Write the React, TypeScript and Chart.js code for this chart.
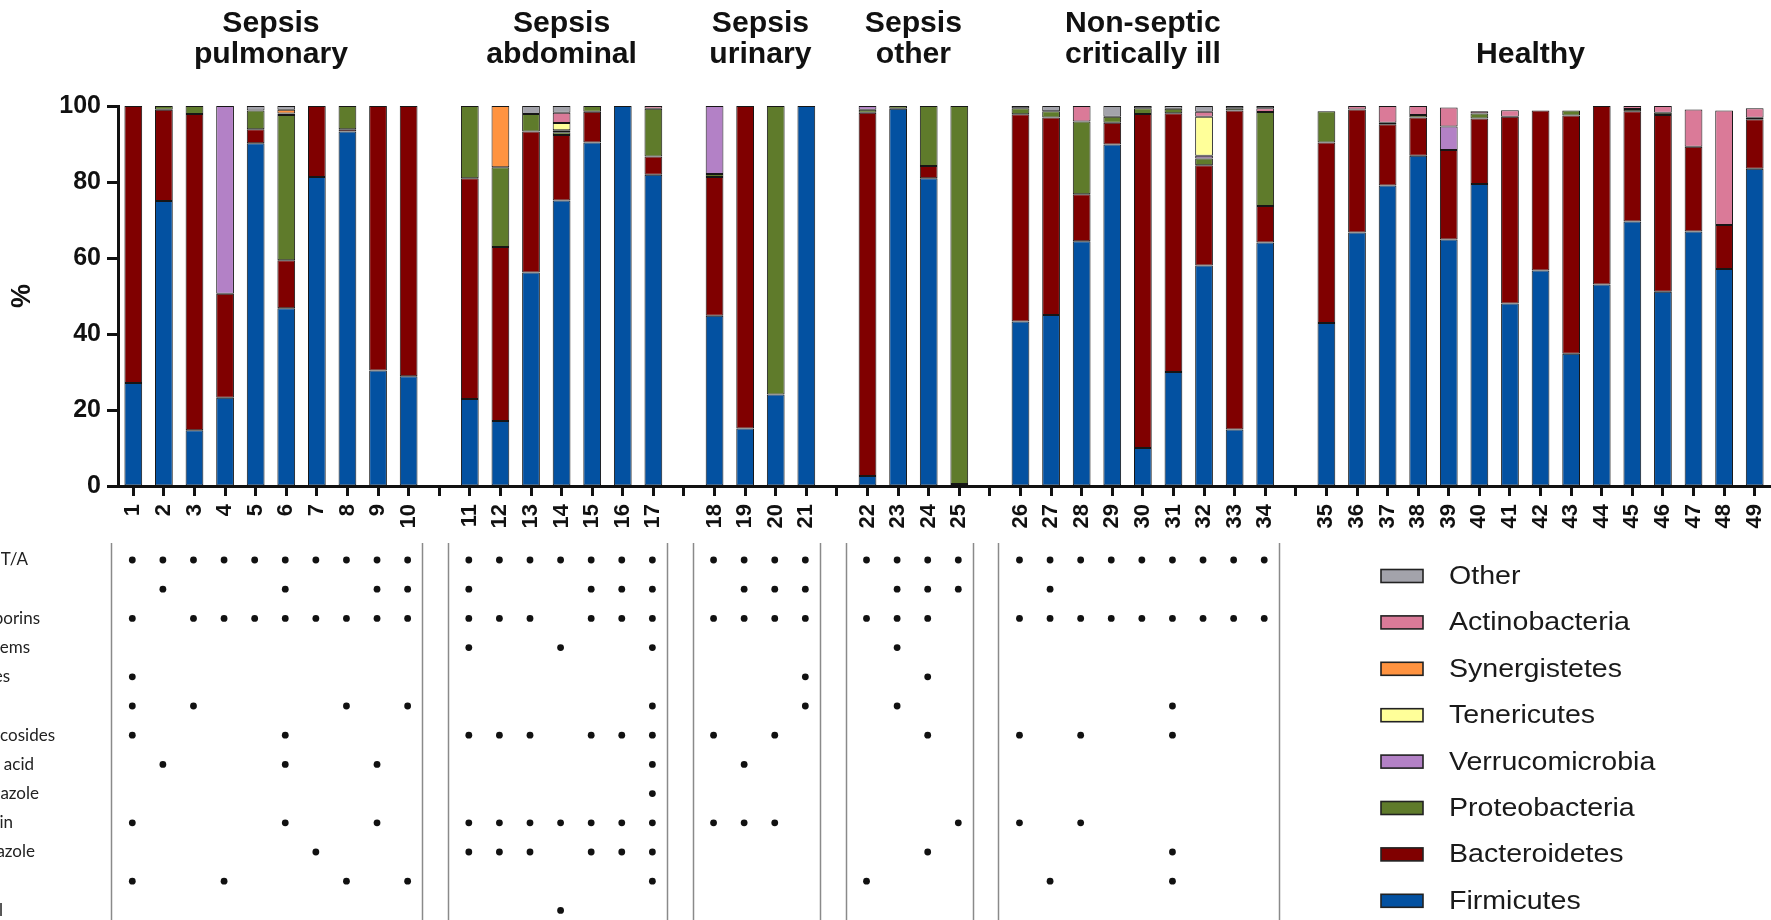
import { useEffect, useRef } from "react";
import { Chart, registerables } from "chart.js";

Chart.register(...registerables);

// Patient groups, in the order they appear along the x axis
const GROUP_TITLES: string[][] = [
  ["Sepsis", "pulmonary"],
  ["Sepsis", "abdominal"],
  ["Sepsis", "urinary"],
  ["Sepsis", "other"],
  ["Non-septic", "critically ill"],
  ["Healthy"],
];
const GROUP_SIZES = [10, 7, 4, 4, 9, 15];
// horizontal nudge of each heading from the group centre, px
const TITLE_SHIFT = [0, 0, 0, 0, 0, -10];

const SAMPLE_LABELS = [
  "1", "2", "3", "4", "5", "6", "7", "8", "9", "10",
  "11", "12", "13", "14", "15", "16", "17",
  "18", "19", "20", "21",
  "22", "23", "24", "25",
  "26", "27", "28", "29", "30", "31", "32", "33", "34",
  "35", "36", "37", "38", "39", "40", "41", "42", "43", "44", "45", "46", "47", "48", "49",
];

// Relative abundance (%) per phylum, one value per sample
const FIRMICUTES = [
  27.1, 75.0, 14.7, 23.2, 90.2, 46.8, 81.3, 93.3, 30.4, 28.9,
  22.9, 17.1, 56.2, 75.1, 90.4, 100, 81.9,
  44.8, 15.1, 24.1, 100,
  2.6, 99.3, 81.0, 0.5,
  43.3, 45.0, 64.4, 89.9, 10.0, 30.0, 58.0, 14.9, 64.1,
  42.9, 66.7, 79.1, 86.9, 64.9, 79.5, 48.0, 56.7, 34.8, 53.0, 69.6, 51.1, 67.0, 57.1, 83.5,
];
const BACTEROIDETES = [
  72.9, 24.0, 83.2, 27.4, 3.7, 12.6, 18.7, 0.6, 69.6, 71.1,
  58.1, 45.8, 37.1, 17.3, 8.1, 0, 4.8,
  36.5, 84.9, 0, 0,
  95.6, 0, 3.2, 0,
  54.5, 52.0, 12.4, 5.7, 87.9, 68.1, 26.4, 83.9, 9.6,
  47.5, 32.4, 16.1, 10.1, 23.5, 17.2, 49.2, 42.1, 62.7, 47.0, 29.0, 46.5, 22.3, 11.6, 13.0,
];
const PROTEOBACTERIA = [
  0, 1.0, 2.1, 0, 4.9, 38.2, 0, 6.1, 0, 0,
  19.0, 21.0, 4.6, 0.7, 1.5, 0, 12.6,
  0.8, 0, 75.9, 0,
  0.8, 0.7, 15.8, 99.5,
  1.6, 1.6, 19.1, 1.6, 1.5, 1.2, 1.8, 0.6, 24.7,
  8.2, 0, 0.4, 0.6, 0, 1.3, 0, 0, 1.3, 0, 0.6, 0.6, 0, 0, 0.4,
];
const VERRUCOMICROBIA = [
  0, 0, 0, 49.4, 0, 0, 0, 0, 0, 0,
  0, 0, 0, 0.5, 0, 0, 0,
  17.9, 0, 0, 0,
  1.0, 0, 0, 0,
  0, 0, 0, 0, 0, 0, 0.7, 0, 0,
  0, 0, 0, 0, 6.2, 0, 0, 0, 0, 0, 0, 0, 0, 0, 0,
];
const TENERICUTES = [
  0, 0, 0, 0, 0, 0.4, 0, 0, 0, 0,
  0, 0, 0, 1.9, 0, 0, 0,
  0, 0, 0, 0,
  0, 0, 0, 0,
  0, 0, 0, 0, 0, 0, 10.3, 0, 0,
  0, 0, 0, 0, 0, 0, 0, 0, 0, 0, 0, 0, 0, 0, 0,
];
const SYNERGISTETES = [
  0, 0, 0, 0, 0, 1.0, 0, 0, 0, 0,
  0, 16.1, 0, 0, 0, 0, 0,
  0, 0, 0, 0,
  0, 0, 0, 0,
  0, 0, 0, 0, 0, 0, 0, 0, 0,
  0, 0, 0, 0, 0, 0, 0, 0, 0, 0, 0, 0, 0, 0, 0,
];
const ACTINOBACTERIA = [
  0, 0, 0, 0, 0, 0, 0, 0, 0, 0,
  0, 0, 0, 2.7, 0, 0, 0.7,
  0, 0, 0, 0,
  0, 0, 0, 0,
  0, 0, 4.1, 0, 0, 0, 1.3, 0, 1.0,
  0, 0.9, 4.4, 2.4, 5.0, 0.6, 1.7, 0, 0, 0, 0.8, 1.8, 9.8, 30.1, 2.5,
];
const OTHER = [
  0, 0, 0, 0, 1.2, 1.0, 0, 0, 0, 0,
  0, 0, 2.1, 1.8, 0, 0, 0,
  0, 0, 0, 0,
  0, 0, 0, 0,
  0.6, 1.4, 0, 2.8, 0.6, 0.7, 1.5, 0.6, 0.6,
  0, 0, 0, 0, 0, 0, 0, 0, 0, 0, 0, 0, 0, 0, 0,
];

const PHYLA = [
  { label: "Firmicutes", values: FIRMICUTES, color: "#0351A1" },
  { label: "Bacteroidetes", values: BACTEROIDETES, color: "#800000" },
  { label: "Proteobacteria", values: PROTEOBACTERIA, color: "#5F7B2B" },
  { label: "Verrucomicrobia", values: VERRUCOMICROBIA, color: "#B381C6" },
  { label: "Tenericutes", values: TENERICUTES, color: "#FFFF99" },
  { label: "Synergistetes", values: SYNERGISTETES, color: "#FF9340" },
  { label: "Actinobacteria", values: ACTINOBACTERIA, color: "#DA7A98" },
  { label: "Other", values: OTHER, color: "#A3A3AB" },
];

// Antibiotic exposure table below the bars: row names and the samples marked in each row
const TREATMENT_ROWS = [
  "Piperacillin/T/A",
  "Vancomycin",
  "Cephalosporins",
  "Carbapenems",
  "Quinolones",
  "Linezolid",
  "Aminoglycosides",
  "Clavulanic acid",
  "Metronidazole",
  "Clindamycin",
  "Fluconazole",
  "Antivirals",
  "Chloramphenicol",
];
const TREATMENT_SAMPLES: number[][] = [
  [1, 2, 3, 4, 5, 6, 7, 8, 9, 10, 11, 12, 13, 14, 15, 16, 17, 18, 19, 20, 21, 22, 23, 24, 25, 26, 27, 28, 29, 30, 31, 32, 33, 34],
  [2, 6, 9, 10, 11, 15, 16, 17, 19, 20, 21, 23, 24, 25, 27],
  [1, 3, 4, 5, 6, 7, 8, 9, 10, 11, 12, 13, 15, 16, 17, 18, 19, 20, 21, 22, 23, 24, 26, 27, 28, 29, 30, 31, 32, 33, 34],
  [11, 14, 17, 23],
  [1, 21, 24],
  [1, 3, 8, 10, 17, 21, 23, 31],
  [1, 6, 11, 12, 13, 15, 16, 17, 18, 20, 24, 26, 28, 31],
  [2, 6, 9, 17, 19],
  [17],
  [1, 6, 9, 11, 12, 13, 14, 15, 16, 17, 18, 19, 20, 25, 26, 28],
  [7, 11, 12, 13, 15, 16, 17, 24, 31],
  [1, 4, 8, 10, 17, 22, 27, 31],
  [14],
];
const TABLE_GROUPS = 5;

// Row names are right-aligned against the left page edge, where they run off the canvas
const ROW_NAME_RIGHT = [28, -6, 40, 30, 10, -6, 55, 34, 39, 13, 35, -6, 3];

const FONT = "'Liberation Sans', Arial, Helvetica, sans-serif";
const INK = "#111";

// slot index on the category axis for each sample (one empty slot between groups)
const SLOT_OF: number[] = [];
const X_LABELS: string[] = [];
{
  let s = 0;
  GROUP_SIZES.forEach((n, g) => {
    for (let k = 0; k < n; k++) {
      SLOT_OF.push(X_LABELS.length);
      X_LABELS.push(SAMPLE_LABELS[s + k]);
    }
    s += n;
    if (g < GROUP_SIZES.length - 1) X_LABELS.push("");
  });
}

function toSlots(values: number[]): (number | null)[] {
  const out: (number | null)[] = X_LABELS.map(() => null);
  values.forEach((v, i) => {
    out[SLOT_OF[i]] = v > 0 ? v : null;
  });
  return out;
}

// text drawn slightly widened, as in the figure's typesetting
function wideText(ctx: CanvasRenderingContext2D, text: string, x: number, y: number, stretch: number) {
  ctx.save();
  ctx.translate(x, y);
  ctx.scale(stretch, 1);
  ctx.fillText(text, 0, 0);
  ctx.restore();
}

const annotations = {
  id: "panelAnnotations",
  afterDraw(chart: any) {
    const ctx: CanvasRenderingContext2D = chart.ctx;
    const xs = chart.scales.x;
    const px = (slot: number) => xs.getPixelForValue(slot);
    ctx.save();

    // group headings
    ctx.fillStyle = INK;
    ctx.font = `bold 29px ${FONT}`;
    ctx.textAlign = "center";
    ctx.textBaseline = "alphabetic";
    let start = 0;
    const bounds: [number, number][] = [];
    GROUP_SIZES.forEach((n, g) => {
      const first = SLOT_OF[start];
      const last = SLOT_OF[start + n - 1];
      bounds.push([first, last]);
      const cx = (px(first) + px(last)) / 2 + TITLE_SHIFT[g];
      const lines = GROUP_TITLES[g];
      const baselines = lines.length === 2 ? [32, 63] : [63];
      lines.forEach((t, i) => wideText(ctx, t, cx, baselines[i], 1.04));
      start += n;
    });

    // y axis title
    ctx.save();
    ctx.translate(23, 296);
    ctx.rotate(-Math.PI / 2);
    ctx.font = `bold 27px ${FONT}`;
    ctx.textBaseline = "middle";
    ctx.fillText("%", 0, 0);
    ctx.restore();

    // treatment table: separators
    const rowY = (r: number) => 560 + r * 29.2;
    ctx.strokeStyle = "#8a8a8a";
    ctx.lineWidth = 1.5;
    for (let g = 0; g < TABLE_GROUPS; g++) {
      const [first, last] = bounds[g];
      [px(first) - 22, px(last) + 13.5].forEach((lx) => {
        ctx.beginPath();
        ctx.moveTo(Math.round(lx) + 0.5, 543);
        ctx.lineTo(Math.round(lx) + 0.5, 920);
        ctx.stroke();
      });
    }

    // treatment table: dots
    ctx.fillStyle = INK;
    TREATMENT_SAMPLES.forEach((samples, r) => {
      samples.forEach((sNum) => {
        const cx = px(SLOT_OF[sNum - 1]) - 1;
        ctx.beginPath();
        ctx.arc(cx, rowY(r), 3.4, 0, Math.PI * 2);
        ctx.fill();
      });
    });

    // treatment table: row names
    ctx.fillStyle = "#222";
    ctx.font = "17px Lato, 'Open Sans', sans-serif";
    ctx.textAlign = "right";
    ctx.textBaseline = "middle";
    TREATMENT_ROWS.forEach((name, r) => {
      ctx.fillText(name, ROW_NAME_RIGHT[r], rowY(r));
    });

    // legend, top entry is the last stacked series
    const sets = chart.data.datasets.slice().reverse();
    ctx.textAlign = "left";
    ctx.font = `25.5px ${FONT}`;
    sets.forEach((ds: any, i: number) => {
      const cy = 576 + i * 46.4;
      ctx.fillStyle = ds.backgroundColor;
      ctx.fillRect(1381, cy - 6.5, 42, 13);
      ctx.strokeStyle = "#222";
      ctx.lineWidth = 1.6;
      ctx.strokeRect(1381, cy - 6.5, 42, 13);
      ctx.fillStyle = "#1a1a1a";
      wideText(ctx, ds.label, 1449, cy + 1, 1.12);
    });

    ctx.restore();
  },
};

export default function App() {
  const ref = useRef<HTMLCanvasElement | null>(null);

  useEffect(() => {
    if (!ref.current) return;
    Chart.defaults.font.family = FONT;
    const chart = new Chart(ref.current, {
      type: "bar",
      data: {
        labels: X_LABELS,
        datasets: PHYLA.map((p) => ({
          label: p.label,
          data: toSlots(p.values),
          backgroundColor: p.color,
          borderColor: "#161616",
          borderWidth: 1,
          borderSkipped: false,
          barPercentage: 0.58,
          categoryPercentage: 1,
        })),
      },
      options: {
        responsive: false,
        animation: false,
        layout: { autoPadding: false, padding: { top: 106, right: 1, bottom: 0, left: 0 } },
        plugins: {
          legend: { display: false },
          tooltip: { enabled: false },
          title: { display: false },
        },
        scales: {
          x: {
            stacked: true,
            offset: true,
            grid: {
              offset: false,
              drawOnChartArea: false,
              drawTicks: true,
              tickLength: 10,
              tickWidth: 3,
              tickColor: INK,
            },
            border: { display: true, width: 3, color: INK },
            ticks: {
              autoSkip: false,
              minRotation: 90,
              maxRotation: 90,
              padding: 8,
              color: INK,
              font: { family: FONT, weight: "bold", size: 22 },
            },
            afterFit: (scale: any) => {
              scale.height = 434;
              scale.paddingLeft = 0;
              scale.paddingRight = 0;
            },
          },
          y: {
            stacked: true,
            min: 0,
            max: 100,
            grid: {
              drawOnChartArea: false,
              drawTicks: true,
              tickLength: 11,
              tickWidth: 3,
              tickColor: INK,
            },
            border: { display: true, width: 3, color: INK },
            ticks: {
              stepSize: 20,
              padding: 6,
              color: INK,
              font: { family: FONT, weight: "bold", size: 25 },
            },
            afterFit: (scale: any) => {
              scale.width = 118;
              scale.paddingTop = 0;
              scale.paddingBottom = 0;
            },
          },
        },
      } as any,
      plugins: [annotations],
    });
    return () => chart.destroy();
  }, []);

  return (
    <canvas
      ref={ref}
      width={1771}
      height={920}
      style={{ position: "absolute", left: 0, top: 0, display: "block", background: "#fff" }}
    />
  );
}
